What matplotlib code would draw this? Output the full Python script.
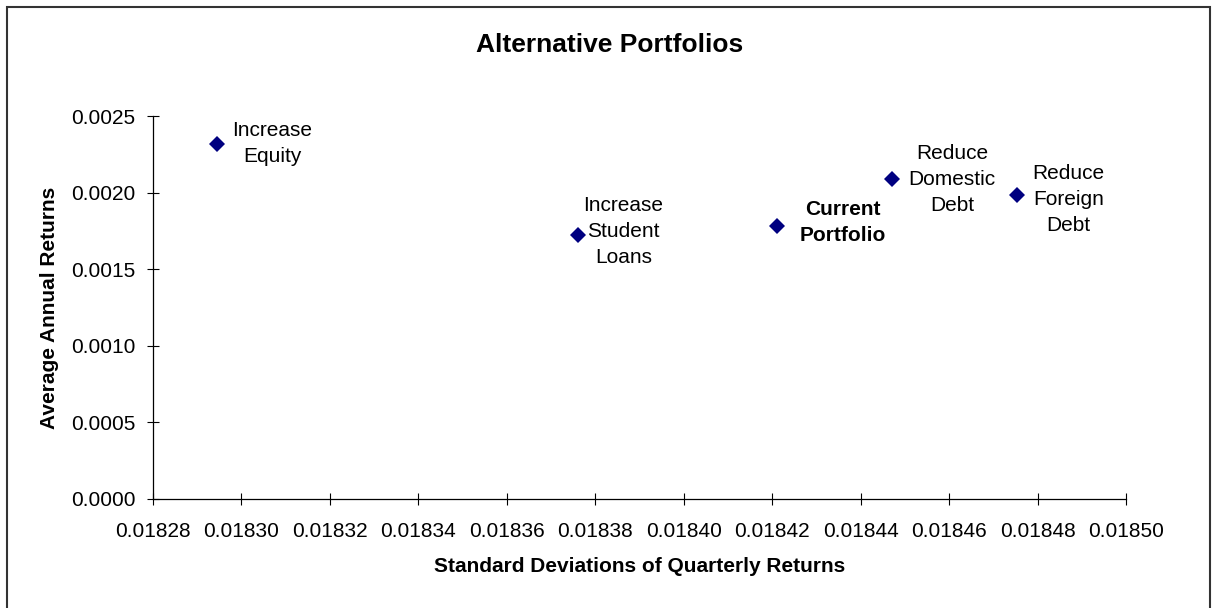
import numpy as np
import matplotlib
matplotlib.use("Agg")
import matplotlib.pyplot as plt
from matplotlib.patches import Rectangle
from matplotlib.ticker import FormatStrFormatter, MultipleLocator

plt.rcParams['font.family'] = ['Liberation Sans', 'DejaVu Sans']

####### Data #######
portfolio_names = ["Increase\nEquity", "Increase\nStudent\nLoans", "Current\nPortfolio",
                   "Reduce\nDomestic\nDebt", "Reduce\nForeign\nDebt"]
std_devs = [0.0182945, 0.0183761, 0.0184211, 0.0184471, 0.0184754]
avg_returns = [0.002319, 0.001721, 0.001780, 0.002088, 0.001986]
bold_names = ["Current\nPortfolio"]

x_limits = (0.01828, 0.01850)
y_limits = (0.0, 0.0025)

# label placement next to each marker (offset points)
label_offsets = [(11, 0), (4, 3), (16, 3), (12, 0), (11, -3.5)]

####### Plot #######
fig = plt.figure(figsize=(12.18, 6.08), dpi=100)
ax = fig.add_axes([153/1218, 1 - 499/608, (1126 - 153)/1218, (499 - 116)/608])

ax.plot(std_devs, avg_returns, linestyle="none", marker="D", markersize=8,
        color="#000080", markeredgewidth=0)

for name, x, y, off in zip(portfolio_names, std_devs, avg_returns, label_offsets):
    weight = "bold" if name in bold_names else "normal"
    ax.annotate(name, (x, y), xytext=off, textcoords="offset points",
                ha="left", va="center", multialignment="center",
                fontsize=15, fontweight=weight, linespacing=1.47)

ax.set_xlim(x_limits)
ax.set_ylim(y_limits)
ax.xaxis.set_major_locator(MultipleLocator(0.00002))
ax.yaxis.set_major_locator(MultipleLocator(0.0005))
ax.xaxis.set_major_formatter(FormatStrFormatter("%.5f"))
ax.yaxis.set_major_formatter(FormatStrFormatter("%.4f"))

for side in ["top", "right"]:
    ax.spines[side].set_visible(False)
for side in ["left", "bottom"]:
    ax.spines[side].set_linewidth(0.9)
ax.tick_params(axis="both", direction="inout", length=9, width=0.8, labelsize=15)
ax.tick_params(axis="x", pad=12)
ax.tick_params(axis="y", pad=8)

ax.set_xlabel("Standard Deviations of Quarterly Returns", fontsize=15, fontweight="bold")
ax.xaxis.set_label_coords(0.5, -(566 - 499)/383)
ax.xaxis.label.set_va("center")
ax.set_ylabel("Average Annual Returns", fontsize=15, fontweight="bold")
ax.yaxis.set_label_coords(-(153 - 49)/973, 0.5)
ax.yaxis.label.set_va("center")

fig.text(610/1218, 1 - 52/608, "Alternative Portfolios", ha="center", va="baseline",
         fontsize=19, fontweight="bold")

# outer chart frame
fig.patches.append(Rectangle((7/1218, -0.02), (1210 - 7)/1218, 1 - 7/608 + 0.02,
                             transform=fig.transFigure, fill=False,
                             edgecolor="#333333", linewidth=1.5))

fig.savefig("out.png", dpi=100)
